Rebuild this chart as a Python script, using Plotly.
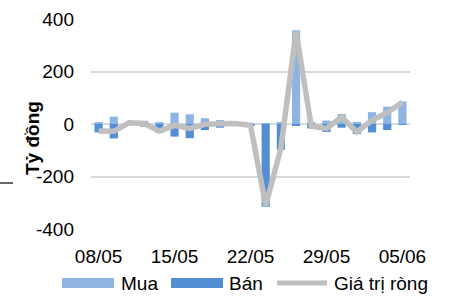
import plotly.graph_objects as go

dates = ["08/05", "09/05", "10/05", "11/05", "12/05", "15/05", "16/05", "17/05", "18/05", "19/05",
         "22/05", "23/05", "24/05", "25/05", "26/05", "29/05", "30/05", "31/05", "01/06", "02/06", "05/06"]
mua = [5, 28, 8, 12, 6, 43, 37, 22, 15, 3, 1, 3, 6, 357, 8, 13, 38, 8, 45, 66, 86]
ban = [-32, -55, -3, -10, -33, -48, -54, -23, -14, -1, -6, -315, -98, -5, -17, -30, -14, -38, -32, -23, -3]
net = [-27, -28, 5, 2, -27, -5, -17, -1, 1, 2, -5, -310, -92, 352, -9, -17, 26, -30, 14, 43, 83]
tick_labels = ["08/05", "15/05", "22/05", "29/05", "05/06"]
y_ticks = [-400, -200, 0, 200, 400]
y_tick_text = ["-400", "-200", "0", "200", "400"]

W, H = 466, 296
L, R, T, B = 91, 56, 19, 67
PW, PH = W - L - R, H - T - B

def px(x):
    return (x - L) / PW

def py(y):
    return (H - B - y) / PH

FONT = "Arial, Liberation Sans, sans-serif"
C_MUA = "#8DB4E2"
C_BAN = "#538DD5"
C_NET = "#BFBFBF"

fig = go.Figure()
fig.add_trace(go.Bar(x=dates, y=mua, name="Mua", marker_color=C_MUA, marker_line_width=0))
fig.add_trace(go.Bar(x=dates, y=ban, name="Bán", marker_color=C_BAN, marker_line_width=0))
fig.add_trace(go.Scatter(x=dates, y=net, name="Giá trị ròng", mode="lines",
                         line=dict(color=C_NET, width=5.5)))

shapes = [
    dict(type="rect", xref="paper", yref="paper", x0=px(62), x1=px(114), y0=py(288), y1=py(278),
         fillcolor=C_MUA, line_width=0),
    dict(type="rect", xref="paper", yref="paper", x0=px(171), x1=px(223), y0=py(288), y1=py(278),
         fillcolor=C_BAN, line_width=0),
    dict(type="line", xref="paper", yref="paper", x0=px(277), x1=px(327), y0=py(283), y1=py(283),
         line=dict(color=C_NET, width=5)),
    dict(type="line", xref="paper", yref="paper", x0=px(0), x1=px(13), y0=py(183), y1=py(183),
         line=dict(color="#000000", width=1.2)),
]
annotations = [
    dict(text="Mua", xref="paper", yref="paper", x=px(119), y=py(283), xanchor="left", yanchor="middle",
         showarrow=False, font=dict(family=FONT, size=19, color="#000")),
    dict(text="Bán", xref="paper", yref="paper", x=px(227), y=py(283), xanchor="left", yanchor="middle",
         showarrow=False, font=dict(family=FONT, size=19, color="#000")),
    dict(text="Giá trị ròng", xref="paper", yref="paper", x=px(332), y=py(283), xanchor="left",
         yanchor="middle", showarrow=False, font=dict(family=FONT, size=19, color="#000")),
    dict(text="<b>Tỷ đồng</b>", xref="paper", yref="paper", x=px(32), y=py(138), textangle=-90,
         xanchor="center", yanchor="middle", showarrow=False,
         font=dict(family=FONT, size=19, color="#000")),
]

fig.update_layout(
    width=W, height=H,
    margin=dict(l=L, r=R, t=T, b=B, autoexpand=False),
    paper_bgcolor="white", plot_bgcolor="white",
    barmode="relative", bargap=0.46,
    showlegend=False,
    font=dict(family=FONT, size=19, color="#000"),
    shapes=shapes, annotations=annotations,
    xaxis=dict(type="category", categoryorder="array", categoryarray=dates, automargin=False,
               tickvals=tick_labels, ticktext=tick_labels, showgrid=False, showline=False,
               zeroline=False, ticks="", tickangle=0, ticklabelstandoff=14,
               range=[-0.5, len(dates) - 0.5], tickfont=dict(size=19)),
    yaxis=dict(range=[-400, 400], tickvals=y_ticks, ticktext=y_tick_text, showgrid=True,
               automargin=False, gridcolor="#D9D9D9", gridwidth=1.5, zeroline=False,
               showline=False, ticks="", ticklabelstandoff=16, tickfont=dict(size=19)),
)

fig.write_html("out.html", config={"displayModeBar": False},
               post_script="document.body.style.margin='0';document.body.style.overflow='hidden';")
